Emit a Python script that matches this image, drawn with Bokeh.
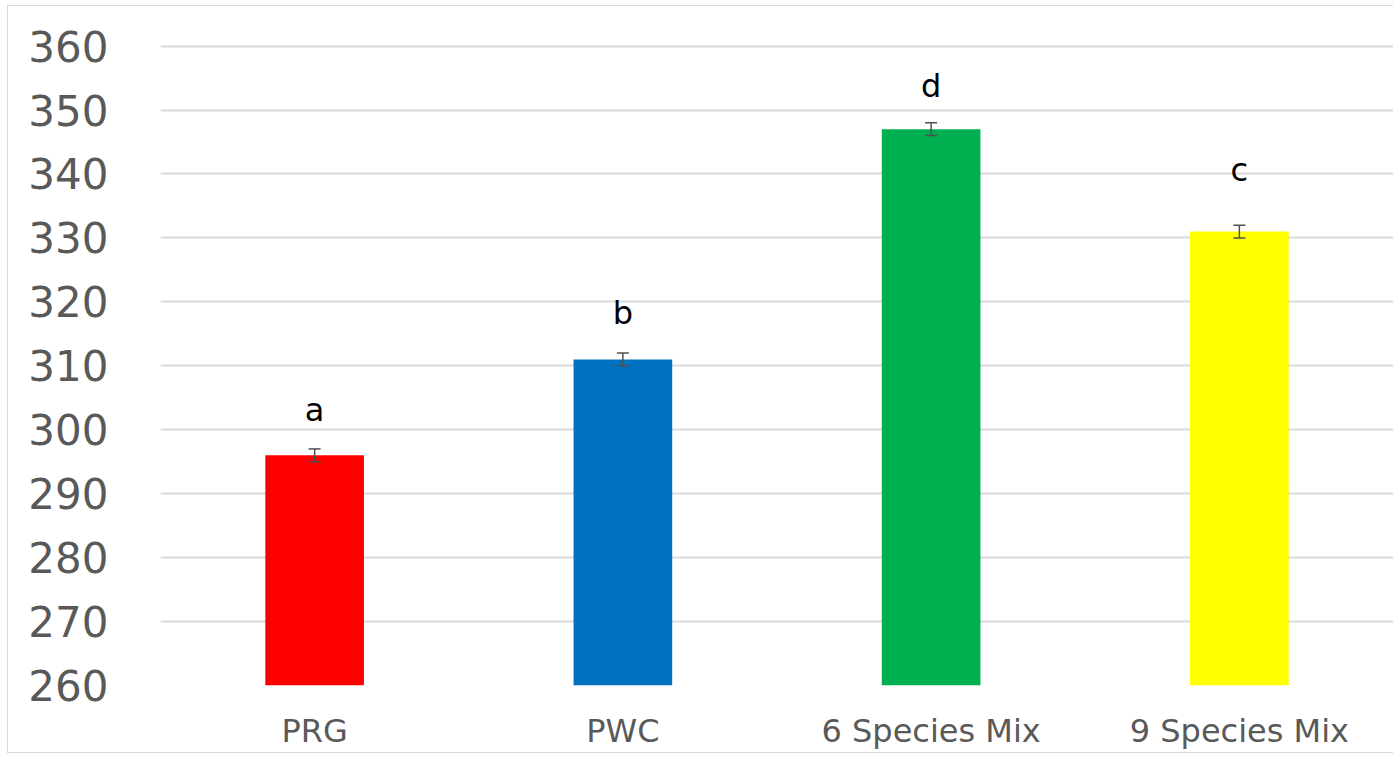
from bokeh.plotting import figure
from bokeh.models import ColumnDataSource, Range1d, Whisker, FixedTicker
from bokeh.core.properties import value
from bokeh.embed import file_html
from bokeh.resources import INLINE

# ---- data ----
categories = ["PRG", "PWC", "6 Species Mix", "9 Species Mix"]
means = [296, 311, 347, 331]
errors = [1.0, 1.0, 1.0, 1.0]
letters = ["a", "b", "d", "c"]
colors = ["#FF0000", "#0070C0", "#00B050", "#FFFF00"]
y_ticks = [260, 270, 280, 290, 300, 310, 320, 330, 340, 350, 360]

# ---- layout tweaks (label baseline offset above bar tops) ----
label_offset = [7.1, 7.2, 6.8, 9.6]

src = ColumnDataSource(dict(
    cat=categories,
    mean=means,
    upper=[m + e for m, e in zip(means, errors)],
    lower=[m - e for m, e in zip(means, errors)],
    color=colors,
    letter=letters,
    ly=[m + o for m, o in zip(means, label_offset)],
))

p = figure(x_range=categories, width=1385, height=746,
           output_backend="svg", toolbar_location=None,
           min_border_left=152, min_border_right=0,
           min_border_top=38, min_border_bottom=66)
p.y_range = Range1d(260, 360.25)
p.styles = {"outline": "1px solid #d9d9d9", "margin-left": "8px", "margin-top": "6px"}

p.vbar(x="cat", top="mean", bottom=260, width=0.32, color="color",
       line_color=None, source=src)

w = Whisker(base="cat", upper="upper", lower="lower", source=src,
            line_color="#505050", line_width=1.5, level="overlay")
w.upper_head.size = 12
w.lower_head.size = 12
w.upper_head.line_color = "#505050"
w.lower_head.line_color = "#505050"
w.upper_head.line_width = 1.5
w.lower_head.line_width = 1.5
p.add_layout(w)

p.text(x="cat", y="ly", text="letter", source=src,
       text_font=value("DejaVu Sans"), text_font_size="32px",
       text_color="#000000", text_align="center", text_baseline="alphabetic")

p.outline_line_color = None
p.background_fill_color = "white"
p.border_fill_color = "white"

p.xgrid.grid_line_color = None
p.ygrid.grid_line_color = "#d9d9d9"
p.ygrid.grid_line_width = 2
p.yaxis.ticker = FixedTicker(ticks=y_ticks)

for ax in (p.xaxis, p.yaxis):
    ax.axis_line_color = None
    ax.major_tick_line_color = None
    ax.minor_tick_line_color = None
    ax.major_tick_out = 0
    ax.major_tick_in = 0
    ax.major_label_text_font = "DejaVu Sans"
    ax.major_label_text_color = "#595959"

p.yaxis.major_label_text_font_size = "42px"
p.yaxis.major_label_standoff = 52
p.xaxis.major_label_text_font_size = "32px"
p.xaxis.major_label_standoff = 26

open("out.html", "w").write(file_html(p, INLINE))
